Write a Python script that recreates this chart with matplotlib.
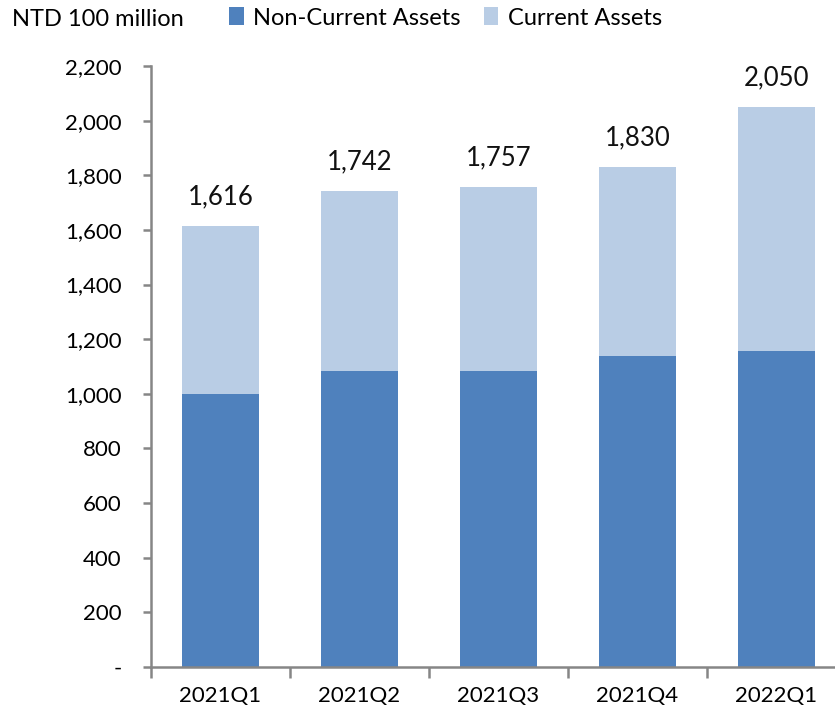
import numpy as np
import matplotlib.pyplot as plt
from matplotlib.ticker import FuncFormatter, FixedLocator

quarters = ['2021Q1', '2021Q2', '2021Q3', '2021Q4', '2022Q1']
totals = [1616, 1742, 1757, 1830, 2050]
non_current = [1000, 1085, 1085, 1140, 1157]
current = [t - n for t, n in zip(totals, non_current)]

dark = '#4F81BD'
light = '#B9CDE5'
grey = '#868686'

plt.rcParams['font.family'] = ['Lato', 'DejaVu Sans']

fig = plt.figure(figsize=(8.35, 7.15), dpi=100)
ax = fig.add_axes([151/835, 48/715, 695/835, 601/715])

x = np.arange(len(quarters))
ax.bar(x, non_current, width=0.55, color=dark, label='Non-Current Assets')
ax.bar(x, current, width=0.55, bottom=non_current, color=light, label='Current Assets')

for xi, t in zip(x, totals):
    ax.text(xi, t + 60, f'{t:,}', ha='center', va='bottom', fontsize=18.5, color='#111111')

ax.set_xlim(-0.5, len(quarters) - 0.5)
ax.set_ylim(0, 2200)
ax.set_yticks(np.arange(0, 2201, 200))
ax.yaxis.set_major_formatter(FuncFormatter(lambda v, p: '-' if v == 0 else f'{int(v):,}'))
ax.set_xticks(x)
ax.set_xticklabels(quarters)
ax.xaxis.set_minor_locator(FixedLocator(np.arange(-0.5, len(quarters), 1.0)))

for s in ['top', 'right']:
    ax.spines[s].set_visible(False)
for s in ['left', 'bottom']:
    ax.spines[s].set_color(grey)
    ax.spines[s].set_linewidth(1.8)

ax.tick_params(axis='y', length=6, width=1.8, color=grey, labelsize=16, pad=15)
ax.tick_params(axis='x', which='major', length=0, labelsize=16, pad=14)
ax.tick_params(axis='x', which='minor', length=8, width=1.8, color=grey)

fig.text(12/835, 1 - 20/715, 'NTD 100 million', fontsize=17, va='center', ha='left')
fig.legend(loc='center left', bbox_to_anchor=(220/835, 1 - 18/715), ncol=2, frameon=False,
           fontsize=17, handlelength=0.6, handleheight=0.8, handletextpad=0.4,
           columnspacing=1.0, borderaxespad=0)

fig.savefig('out.png', dpi=100)
